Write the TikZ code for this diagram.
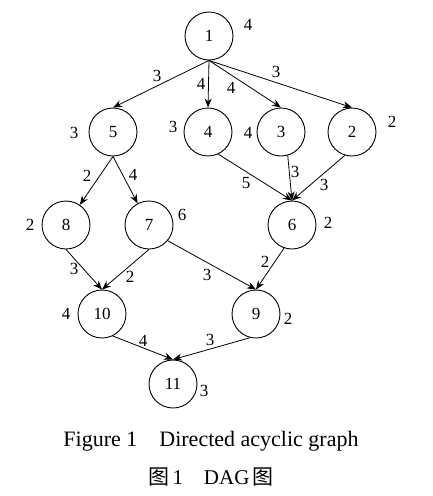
\documentclass[tikz,border=0pt]{standalone}
\usepackage{fontspec}
\setmainfont{Liberation Serif}
\newfontfamily\cjk{Noto Sans CJK SC}
\usetikzlibrary{arrows.meta}
\begin{document}
\begin{tikzpicture}[x=1pt,y=-1pt,
  vtx/.style={circle,draw,line width=0.9pt,minimum size=48pt,inner sep=0pt,font=\fontsize{17}{17}\selectfont},
  wt/.style={font=\fontsize{17}{17}\selectfont,inner sep=0pt},
  edge/.style={line width=0.8pt,-{Stealth[length=9pt,width=7pt]}},
  el/.style={font=\fontsize{17}{17}\selectfont,inner sep=0pt}]
\useasboundingbox (0,0) rectangle (432,496);
\fill[white] (0,0) rectangle (432,496);
% vertices
\node[vtx] (n1) at (209,36) {1};
\node[vtx] (n5) at (113,132) {5};
\node[vtx] (n4) at (208,132) {4};
\node[vtx] (n3) at (281,132) {3};
\node[vtx] (n2) at (352,132) {2};
\node[vtx] (n8) at (66,225) {8};
\node[vtx] (n7) at (149,225) {7};
\node[vtx] (n6) at (292,225) {6};
\node[vtx] (n10) at (102,314) {10};
\node[vtx] (n9) at (256,314) {9};
\node[vtx] (n11) at (173,384) {11};
% vertex weights
\node[wt] (w1) at (248,25) {4};
\node[wt] (w5) at (74,133) {3};
\node[wt] (w4) at (173,127) {3};
\node[wt] (w3) at (248,133) {4};
\node[wt] (w2) at (392,122) {2};
\node[wt] (w8) at (30,225) {2};
\node[wt] (w7) at (182,215) {6};
\node[wt] (w6) at (328,223) {2};
\node[wt] (w10) at (66,314) {4};
\node[wt] (w9) at (288,319) {2};
\node[wt] (w11) at (204,391) {3};
% edges
\draw[edge] (n1.south) -- (n5.north);
\draw[edge] (n1.south) -- (n4.north);
\draw[edge] (n1.south) -- (n3.north);
\draw[edge] (n1.south) -- (n2.north);
\draw[edge] (n5.south) -- (n8);
\draw[edge] (n5.south) -- (n7);
\draw[edge] (n4.-65) -- (n6.north);
\draw[edge] (n3.-74) -- (n6.north);
\draw[edge] (n2.-107) -- (n6.north);
\draw[edge] (n8.south) -- (n10.north);
\draw[edge] (n7.south) -- (n10.north);
\draw[edge] (n7.-40) -- (n9.north);
\draw[edge] (n6.-109) -- (n9.north);
\draw[edge] (n10.-64) -- (n11.north);
\draw[edge] (n9.-104) -- (n11.north);
% edge weights
\node[el] (e15) at (157,76) {3};
\node[el] (e14) at (201,84) {4};
\node[el] (e13) at (231,88) {4};
\node[el] (e12) at (276,72) {3};
\node[el] (e58) at (87,176) {2};
\node[el] (e57) at (133,175) {4};
\node[el] (e46) at (246,183) {5};
\node[el] (e36) at (295,172) {3};
\node[el] (e26) at (324,185) {3};
\node[el] (e810) at (74,269) {3};
\node[el] (e710) at (130,277) {2};
\node[el] (e79) at (207,275) {3};
\node[el] (e69) at (265,262) {2};
\node[el] (e1011) at (143,341) {4};
\node[el] (e911) at (210,340) {3};
% captions
\node[inner sep=0pt,font=\fontsize{22}{22}\selectfont] (cap1) at (211,441) {Figure 1\hspace{1em}Directed acyclic graph};
\node[inner sep=0pt,font=\fontsize{21}{21}\selectfont] (cap2) at (211,477) {{\cjk 图}\,1\hspace{1em}DAG\,{\cjk 图}};
\end{tikzpicture}
\end{document}
